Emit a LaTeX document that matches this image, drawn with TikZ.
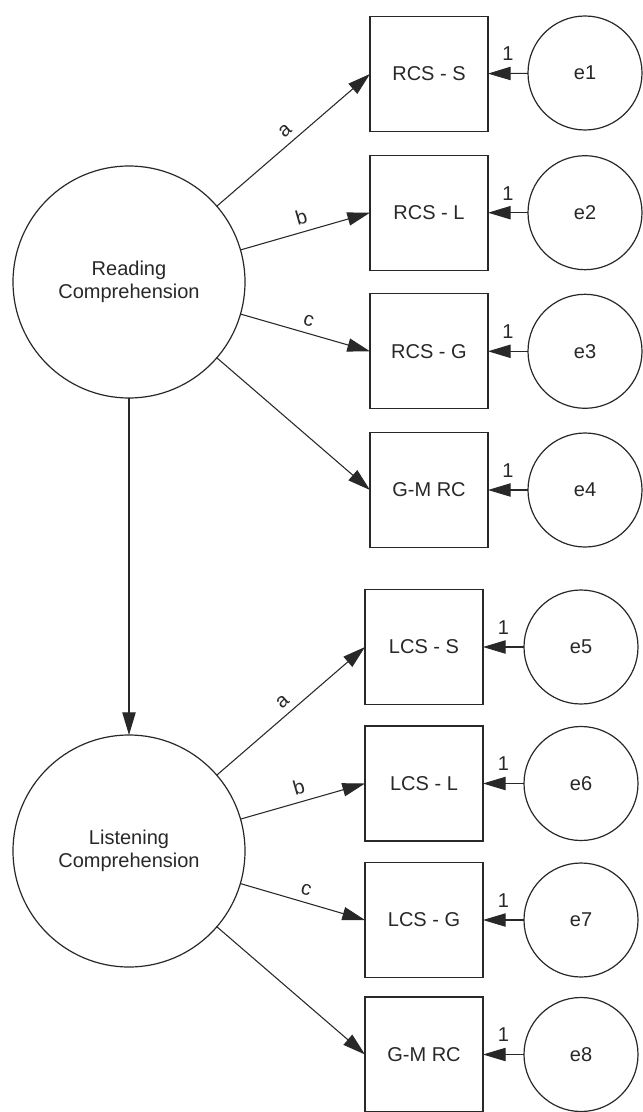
\documentclass[tikz,border=0pt]{standalone}
\usepackage{fontspec}
\setmainfont{Liberation Sans}
\usetikzlibrary{arrows.meta}
\definecolor{ink}{RGB}{40,40,40}
\begin{document}
\begin{tikzpicture}[x=0.75pt,y=-0.75pt,
  every node/.style={text=ink,font=\fontsize{15}{17.5}\selectfont},
  latent/.style={draw=ink,line width=0.9pt,circle,inner sep=0pt,outer sep=0pt,
    minimum size=174pt,align=center},
  errterm/.style={draw=ink,line width=0.9pt,circle,inner sep=0pt,outer sep=0pt,
    minimum size=85.5pt},
  obsbox/.style={draw=ink,line width=0.9pt,rectangle,inner sep=0pt,outer sep=0pt,
    minimum width=88.5pt,minimum height=86.25pt},
  path/.style={draw=ink,line width=0.8pt,-{Triangle[length=17pt,width=10pt]}},
  lbl/.style={midway,above,sloped,inner sep=5pt},
  fixlbl/.style={midway,above=8pt,inner sep=1pt}]
  \fill[white] (0,0) rectangle (642,1112);
  \useasboundingbox (0,0) rectangle (642,1112);

  % latent factors
  \node[latent] (RC) at (129,282) {Reading\\Comprehension};
  \node[latent] (LC) at (129,851) {Listening\\Comprehension};

  % reading indicators and their errors
  \node[obsbox] (rs) at (429,74) {RCS - S};
  \node[obsbox] (rl) at (429,212.7) {RCS - L};
  \node[obsbox] (rg) at (429,351.3) {RCS - G};
  \node[obsbox] (rm) at (429,490) {G-M RC};
  \node[errterm] (e1) at (585,73) {e1};
  \node[errterm] (e2) at (585,212.7) {e2};
  \node[errterm] (e3) at (585,351.3) {e3};
  \node[errterm] (e4) at (585,490) {e4};

  % listening indicators and their errors
  \node[obsbox] (ls) at (424,647) {LCS - S};
  \node[obsbox] (ll) at (424,783.5) {LCS - L};
  \node[obsbox] (lg) at (424,920) {LCS - G};
  \node[obsbox] (lm) at (424,1054.5) {G-M RC};
  \node[errterm] (e5) at (581,647) {e5};
  \node[errterm] (e6) at (581,783.5) {e6};
  \node[errterm] (e7) at (581,920) {e7};
  \node[errterm] (e8) at (581,1054.5) {e8};

  % loadings
  \draw[path] (RC) -- (rs.west) node[lbl] {a};
  \draw[path] (RC) -- (rl.west) node[lbl] {b};
  \draw[path] (RC) -- (rg.west) node[lbl] {c};
  \draw[path] (RC) -- (rm.west);
  \draw[path] (LC) -- (ls.west) node[lbl] {a};
  \draw[path] (LC) -- (ll.west) node[lbl] {b};
  \draw[path] (LC) -- (lg.west) node[lbl] {c};
  \draw[path] (LC) -- (lm.west);

  % structural path
  \draw[path] (RC) -- (LC);

  % error paths fixed to 1
  \foreach \e/\b in {e1/rs,e2/rl,e3/rg,e4/rm,e5/ls,e6/ll,e7/lg,e8/lm}
    \draw[path] (\e) -- (\b) node[fixlbl] {1};
\end{tikzpicture}
\end{document}
